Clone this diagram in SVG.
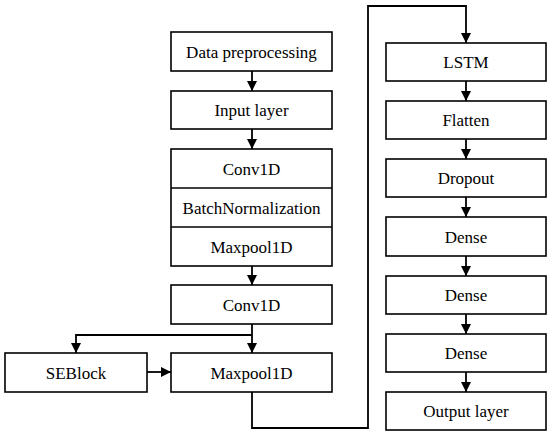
<svg xmlns="http://www.w3.org/2000/svg" width="550" height="435" viewBox="0 0 550 435">
<style>
.box{fill:#fff;stroke:#000;stroke-width:1.6}
.lbl{font-family:'Liberation Serif','Times New Roman',serif;font-size:17px;fill:#000;text-anchor:middle}
.ln{fill:none;stroke:#000;stroke-width:1.8}
</style>
<defs>
<marker id="ah" viewBox="0 0 10 10" refX="10" refY="5" markerWidth="10" markerHeight="10" markerUnits="userSpaceOnUse" orient="auto">
<path d="M0,0 L10,5 L0,10 Z" fill="#000"/>
</marker>
</defs>
<rect width="550" height="435" fill="#fff"/>
<g id="connectors">
<line class="ln" x1="252" y1="71" x2="252" y2="91" marker-end="url(#ah)"/>
<line class="ln" x1="252" y1="129" x2="252" y2="149" marker-end="url(#ah)"/>
<line class="ln" x1="252" y1="266" x2="252" y2="285" marker-end="url(#ah)"/>
<line class="ln" x1="252" y1="324" x2="252" y2="353" marker-end="url(#ah)"/>
<polyline class="ln" points="252,335 76,335 76,353" marker-end="url(#ah)"/>
<line class="ln" x1="147" y1="372" x2="171" y2="372" marker-end="url(#ah)"/>
<polyline class="ln" points="252,392 252,428 368,428 368,6 466,6 466,43" marker-end="url(#ah)"/>
<line class="ln" x1="466" y1="81" x2="466" y2="101" marker-end="url(#ah)"/>
<line class="ln" x1="466" y1="139" x2="466" y2="159" marker-end="url(#ah)"/>
<line class="ln" x1="466" y1="197" x2="466" y2="217" marker-end="url(#ah)"/>
<line class="ln" x1="466" y1="256" x2="466" y2="276" marker-end="url(#ah)"/>
<line class="ln" x1="466" y1="314" x2="466" y2="334" marker-end="url(#ah)"/>
<line class="ln" x1="466" y1="372" x2="466" y2="392" marker-end="url(#ah)"/>
</g>
<g id="data-preprocessing"><rect class="box" x="171" y="32" width="161" height="39"/><text class="lbl" x="251.5" y="57.5">Data preprocessing</text></g>
<g id="input-layer"><rect class="box" x="171" y="91" width="161" height="38"/><text class="lbl" x="251.5" y="116">Input layer</text></g>
<g id="conv-block">
<rect class="box" x="171" y="149" width="161" height="117"/>
<line x1="171" y1="188" x2="332" y2="188" stroke="#000" stroke-width="1.6"/>
<line x1="171" y1="227" x2="332" y2="227" stroke="#000" stroke-width="1.6"/>
<text class="lbl" x="251.5" y="174.5">Conv1D</text>
<text class="lbl" x="251.5" y="213.5">BatchNormalization</text>
<text class="lbl" x="251.5" y="252.5">Maxpool1D</text>
</g>
<g id="conv1d-2"><rect class="box" x="171" y="285" width="161" height="39"/><text class="lbl" x="251.5" y="310.5">Conv1D</text></g>
<g id="maxpool1d-2"><rect class="box" x="171" y="353" width="161" height="39"/><text class="lbl" x="251.5" y="378.5">Maxpool1D</text></g>
<g id="seblock"><rect class="box" x="5" y="353" width="142" height="39"/><text class="lbl" x="76" y="378.5">SEBlock</text></g>
<g id="lstm"><rect class="box" x="386" y="43" width="160" height="38"/><text class="lbl" x="466" y="68">LSTM</text></g>
<g id="flatten"><rect class="box" x="386" y="101" width="160" height="38"/><text class="lbl" x="466" y="126">Flatten</text></g>
<g id="dropout"><rect class="box" x="386" y="159" width="160" height="38"/><text class="lbl" x="466" y="184">Dropout</text></g>
<g id="dense-1"><rect class="box" x="386" y="217" width="160" height="39"/><text class="lbl" x="466" y="242.5">Dense</text></g>
<g id="dense-2"><rect class="box" x="386" y="276" width="160" height="38"/><text class="lbl" x="466" y="301">Dense</text></g>
<g id="dense-3"><rect class="box" x="386" y="334" width="160" height="38"/><text class="lbl" x="466" y="359">Dense</text></g>
<g id="output-layer"><rect class="box" x="386" y="392" width="160" height="38"/><text class="lbl" x="466" y="417">Output layer</text></g>
</svg>
